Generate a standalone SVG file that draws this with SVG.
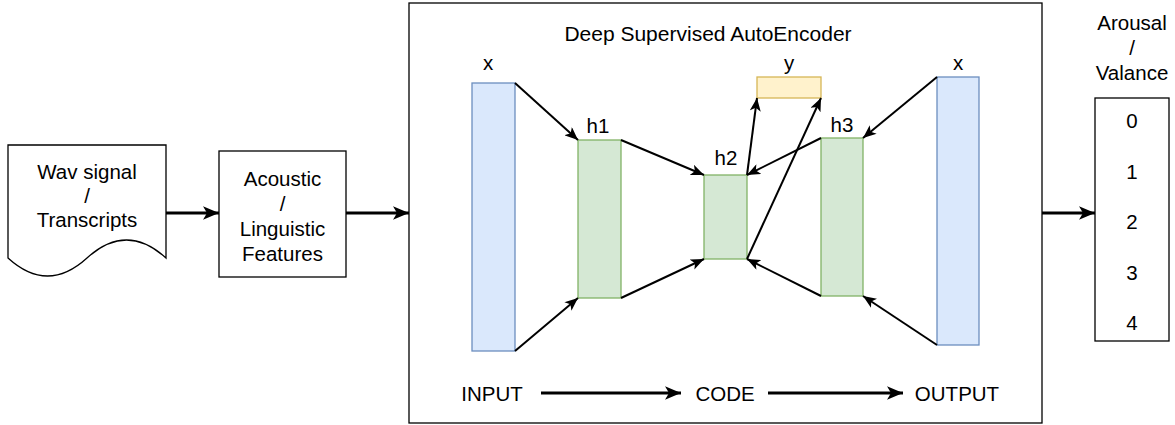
<svg xmlns="http://www.w3.org/2000/svg" width="1175" height="425" viewBox="0 0 1175 425">
  <defs>
    <!-- classic open-notch arrowheads, sized in user units -->
    <marker id="arrow" viewBox="0 0 12 10" refX="12" refY="5" markerWidth="13.5" markerHeight="11" markerUnits="userSpaceOnUse" orient="auto">
      <path d="M0,0 L12,5 L0,10 L3,5 Z" fill="#000"/>
    </marker>
    <marker id="arrowBig" viewBox="0 0 12 10" refX="12" refY="5" markerWidth="16" markerHeight="15" markerUnits="userSpaceOnUse" orient="auto">
      <path d="M0,0 L12,5 L0,10 L3,5 Z" fill="#000"/>
    </marker>
    <style>
      text { font-family: "Liberation Sans", Arial, Helvetica, sans-serif; font-size: 20.5px; fill: #000; text-anchor: middle; dominant-baseline: central; }
      .title { font-size: 21px; }
      .box { fill: #fff; stroke: #000; stroke-width: 1.3; }
      .inout { fill: #dae8fc; stroke: #6c8ebf; stroke-width: 1.3; }
      .hidden { fill: #d5e8d4; stroke: #82b366; stroke-width: 1.3; }
      .label { fill: #fff2cc; stroke: #d6b656; stroke-width: 1.3; }
      .edge { fill: none; stroke: #000; stroke-width: 2; marker-end: url(#arrow); }
      .flow { fill: none; stroke: #000; stroke-width: 3; marker-end: url(#arrowBig); }
    </style>
  </defs>

  <!-- input document -->
  <g id="wav">
    <path class="box" d="M8,145 L166,145 L166,258 Q126.5,222 87,258 Q47.5,294 8,258 Z"/>
    <text x="87" y="171">Wav signal</text>
    <text x="87" y="195">/</text>
    <text x="87" y="219">Transcripts</text>
  </g>

  <!-- feature extraction -->
  <g id="features">
    <rect class="box" x="219" y="151" width="127" height="126"/>
    <text x="282.5" y="178">Acoustic</text>
    <text x="282.5" y="203">/</text>
    <text x="282.5" y="228">Linguistic</text>
    <text x="282.5" y="253">Features</text>
  </g>

  <!-- autoencoder container -->
  <g id="dsae">
    <rect class="box" x="409" y="3" width="633" height="420"/>
    <text class="title" x="708" y="33">Deep Supervised AutoEncoder</text>
  </g>

  <g id="x-in">
    <rect class="inout" x="472" y="83" width="43" height="268"/>
    <text x="488" y="62">x</text>
  </g>
  <g id="h1">
    <rect class="hidden" x="578" y="140" width="43" height="158"/>
    <text x="598" y="125">h1</text>
  </g>
  <g id="h2">
    <rect class="hidden" x="704" y="175" width="43" height="84"/>
    <text x="726" y="157">h2</text>
  </g>
  <g id="y">
    <rect class="label" x="757" y="77" width="64" height="21"/>
    <text x="789" y="62">y</text>
  </g>
  <g id="h3">
    <rect class="hidden" x="821" y="138" width="42" height="158"/>
    <text x="842" y="124">h3</text>
  </g>
  <g id="x-out">
    <rect class="inout" x="937" y="77" width="42" height="268"/>
    <text x="958" y="62">x</text>
  </g>

  <g id="stage-input"><text x="492" y="393">INPUT</text></g>
  <g id="stage-code"><text x="725" y="393">CODE</text></g>
  <g id="stage-output"><text x="957" y="393">OUTPUT</text></g>

  <!-- output classes -->
  <g id="classes">
    <text x="1132" y="22">Arousal</text>
    <text x="1132" y="47">/</text>
    <text x="1132" y="72">Valance</text>
    <rect class="box" x="1095" y="98" width="74" height="243"/>
    <text x="1132" y="120">0</text>
    <text x="1132" y="171">1</text>
    <text x="1132" y="221">2</text>
    <text x="1132" y="272">3</text>
    <text x="1132" y="322">4</text>
  </g>

  <!-- connectors -->
  <g id="connectors">
    <line class="flow" x1="166" y1="213" x2="219" y2="213"/>
    <line class="flow" x1="346" y1="213" x2="409" y2="213"/>
    <line class="flow" x1="1042" y1="213" x2="1095" y2="213"/>

    <line class="edge" x1="515" y1="83" x2="578" y2="140"/>
    <line class="edge" x1="515" y1="351" x2="578" y2="298"/>
    <line class="edge" x1="621" y1="140" x2="704" y2="175"/>
    <line class="edge" x1="621" y1="298" x2="704" y2="259"/>

    <line class="edge" x1="937" y1="77" x2="863" y2="138"/>
    <line class="edge" x1="937" y1="345" x2="863" y2="296"/>
    <line class="edge" x1="821" y1="138" x2="747" y2="175"/>
    <line class="edge" x1="821" y1="296" x2="747" y2="259"/>

    <line class="edge" x1="747" y1="175" x2="757" y2="98"/>
    <line class="edge" x1="747" y1="259" x2="821" y2="98"/>

    <line class="flow" x1="541" y1="393" x2="681" y2="393"/>
    <line class="flow" x1="768" y1="393" x2="903" y2="393"/>
  </g>
</svg>
